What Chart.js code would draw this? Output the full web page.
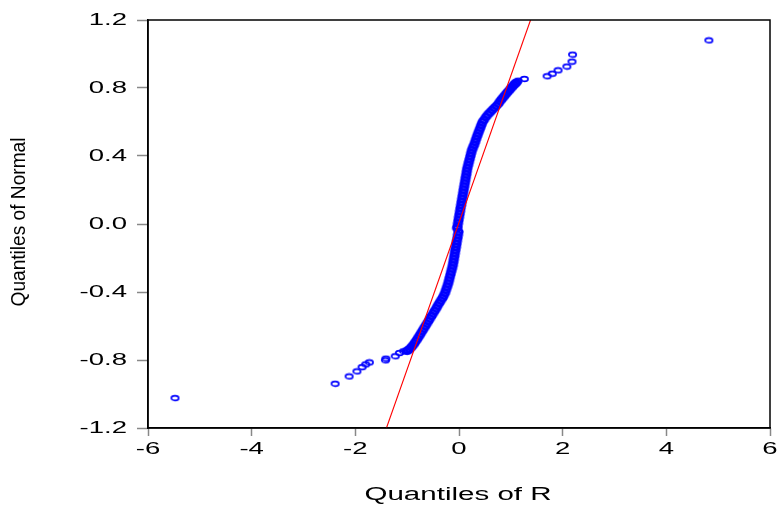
<!DOCTYPE html>
<html>
<head>
<meta charset="utf-8">
<script src="https://cdn.jsdelivr.net/npm/chart.js@4.4.1/dist/chart.umd.min.js"></script>
<style>
html, body { margin: 0; padding: 0; background: #fff; }
#wrap { width: 777px; height: 509px; }
</style>
</head>
<body>
<div id="wrap"><canvas id="qq"></canvas></div>
<script>
// quantiles of R (x) against quantiles of Normal (y)
// dense middle part of the sample
let bandR = [
  -1.00, -0.98, -0.95, -0.92, -0.89, -0.86, -0.83, -0.80, -0.77, -0.74, -0.71, -0.68,
  -0.65, -0.62, -0.59, -0.56, -0.53, -0.50, -0.47, -0.44, -0.41, -0.38, -0.35, -0.32,
  -0.295, -0.27, -0.25, -0.23, -0.21, -0.195, -0.18, -0.165, -0.15, -0.135, -0.12, -0.11,
  -0.10, -0.09, -0.08, -0.07, -0.06, -0.05, -0.04, -0.03, -0.02, -0.01,
  -0.035, -0.03, -0.02, -0.01, 0.00, 0.01, 0.02, 0.03, 0.04, 0.05, 0.06, 0.07,
  0.08, 0.09, 0.10, 0.11, 0.12, 0.13, 0.14, 0.15, 0.16, 0.175, 0.19, 0.205,
  0.22, 0.235, 0.25, 0.27, 0.29, 0.31, 0.33, 0.35, 0.37, 0.39, 0.41, 0.43,
  0.45, 0.48, 0.52, 0.56, 0.60, 0.64, 0.68, 0.72, 0.76, 0.79, 0.82, 0.85,
  0.88, 0.91, 0.94, 0.97, 1.00, 1.03, 1.06, 1.08, 1.10
];
let bandNormal = [
  -0.746, -0.742, -0.734, -0.725, -0.714, -0.702, -0.688, -0.674, -0.660, -0.645, -0.630, -0.615,
  -0.601, -0.586, -0.571, -0.556, -0.541, -0.526, -0.511, -0.496, -0.480, -0.465, -0.450, -0.436,
  -0.421, -0.405, -0.387, -0.369, -0.351, -0.333, -0.315, -0.297, -0.279, -0.261, -0.243, -0.225,
  -0.207, -0.189, -0.171, -0.153, -0.135, -0.117, -0.099, -0.081, -0.063, -0.045,
  -0.025, -0.014, 0.004, 0.022, 0.040, 0.058, 0.076, 0.094, 0.112, 0.130, 0.148, 0.166,
  0.184, 0.202, 0.220, 0.238, 0.256, 0.274, 0.292, 0.310, 0.328, 0.346, 0.364, 0.382,
  0.400, 0.418, 0.435, 0.450, 0.465, 0.482, 0.500, 0.518, 0.534, 0.550, 0.566, 0.582,
  0.598, 0.612, 0.630, 0.645, 0.657, 0.670, 0.683, 0.695, 0.708, 0.722, 0.733, 0.744,
  0.755, 0.766, 0.777, 0.787, 0.798, 0.808, 0.818, 0.826, 0.830
];
// the sparse tails
let tailR = [
  -5.48, -2.39, -2.12, -1.97, -1.87, -1.80, -1.73, -1.42, -1.41, -1.23, -1.15, -1.07, -1.02,
  1.12, 1.14, 1.26, 1.70, 1.80, 1.91, 2.08, 2.18, 2.19, 4.82
];
let tailNormal = [
  -1.024, -0.940, -0.897, -0.867, -0.842, -0.826, -0.814, -0.802, -0.792, -0.778, -0.759, -0.749, -0.748,
  0.836, 0.843, 0.853, 0.869, 0.884, 0.904, 0.926, 0.955, 0.996, 1.08
];

// reference line
let lineR = [-1.40, 1.38];
let lineNormal = [-1.2, 1.2];

let xTicks = [-6, -4, -2, 0, 2, 4, 6];
let yTicks = [-1.2, -0.8, -0.4, 0.0, 0.4, 0.8, 1.2];

const BLUE = "#0000ff";
const RED = "#ff0000";
const FONT = '"Liberation Sans", Arial, sans-serif';

// hollow ellipse markers: thin for the tails, heavier where points pile up
let makeMarker = (w, h, rx, ry, lw) => {
    let c = document.createElement("canvas");
    c.width = w;
    c.height = h;
    let g = c.getContext("2d");
    g.strokeStyle = BLUE;
    g.lineWidth = lw;
    g.beginPath();
    g.ellipse(w / 2, h / 2, rx, ry, 0, 0, 2 * Math.PI);
    g.stroke();
    return c;
};
let thinMarker = makeMarker(11, 8, 3.7, 2.4, 1.6);
let bandMarker = makeMarker(13, 10, 3.9, 2.9, 2.6);

let pairs = (xs, ys) => xs.map((x, i) => ({ x: x, y: ys[i] }));

let stretched = (ctx, text, x, y, sx, align) => {
    ctx.save();
    ctx.translate(x, y);
    ctx.scale(sx, 1);
    ctx.textAlign = align;
    ctx.textBaseline = "middle";
    ctx.fillText(text, 0, 0);
    ctx.restore();
};

let fitText = (ctx, text, x, y, width, angle) => {
    ctx.save();
    ctx.translate(x, y);
    ctx.rotate(angle);
    let w = ctx.measureText(text).width;
    ctx.scale(width / w, 1);
    ctx.textAlign = "center";
    ctx.textBaseline = "middle";
    ctx.fillText(text, 0, 0);
    ctx.restore();
};

const decor = {
    id: "decor",
    afterDraw(chart) {
        let ctx = chart.ctx,
            a = chart.chartArea,
            xs = chart.scales.x,
            ys = chart.scales.y;
        ctx.save();
        ctx.strokeStyle = "#000";
        ctx.lineWidth = 1.5;
        ctx.strokeRect(a.left, a.top, a.right - a.left, a.bottom - a.top);

        ctx.fillStyle = "#000";
        ctx.font = "17px " + FONT;
        ys.ticks.forEach(t => {
            stretched(ctx, t.value.toFixed(1), 127, ys.getPixelForValue(t.value), 1.62, "right");
        });
        xs.ticks.forEach(t => {
            stretched(ctx, String(t.value), xs.getPixelForValue(t.value), 449, 1.62, "center");
        });

        ctx.font = "18px " + FONT;
        fitText(ctx, "Quantiles of R", 458, 495, 187, 0);
        ctx.font = "20px " + FONT;
        fitText(ctx, "Quantiles of Normal", 19.5, 222, 169, -Math.PI / 2);
        ctx.restore();
    }
};

const config = {
    type: "scatter",
    data: {
        datasets: [{
            label: "line",
            data: pairs(lineR, lineNormal),
            showLine: true,
            borderColor: RED,
            borderWidth: 1.1,
            pointRadius: 0
        }, {
            label: "tails",
            data: pairs(tailR, tailNormal),
            pointStyle: thinMarker,
            pointRadius: 4
        }, {
            label: "band",
            data: pairs(bandR, bandNormal),
            pointStyle: bandMarker,
            pointRadius: 5
        }]
    },
    options: {
        responsive: true,
        maintainAspectRatio: false,
        devicePixelRatio: 1,
        animation: false,
        events: [],
        layout: { padding: { top: 20, right: 7, left: 0, bottom: 0 } },
        plugins: { legend: { display: false }, tooltip: { enabled: false } },
        scales: {
            x: {
                type: "linear",
                min: -6,
                max: 6,
                afterBuildTicks: s => { s.ticks = xTicks.map(v => ({ value: v })); },
                afterFit: s => { s.height = 81; },
                ticks: { display: false, autoSkip: false },
                grid: { drawOnChartArea: false, drawTicks: true, tickLength: 8, tickColor: "#888", tickWidth: 1.5 },
                border: { color: "#000", width: 1.5 }
            },
            y: {
                type: "linear",
                min: -1.2,
                max: 1.2,
                afterBuildTicks: s => { s.ticks = yTicks.map(v => ({ value: v })); },
                afterFit: s => { s.width = 148; },
                ticks: { display: false, autoSkip: false },
                grid: { drawOnChartArea: false, drawTicks: true, tickLength: 11, tickColor: "#888", tickWidth: 1.5 },
                border: { color: "#000", width: 1.5 }
            }
        }
    },
    plugins: [decor]
};

var qqChart = new Chart(document.getElementById("qq"), config);
</script>
</body>
</html>
